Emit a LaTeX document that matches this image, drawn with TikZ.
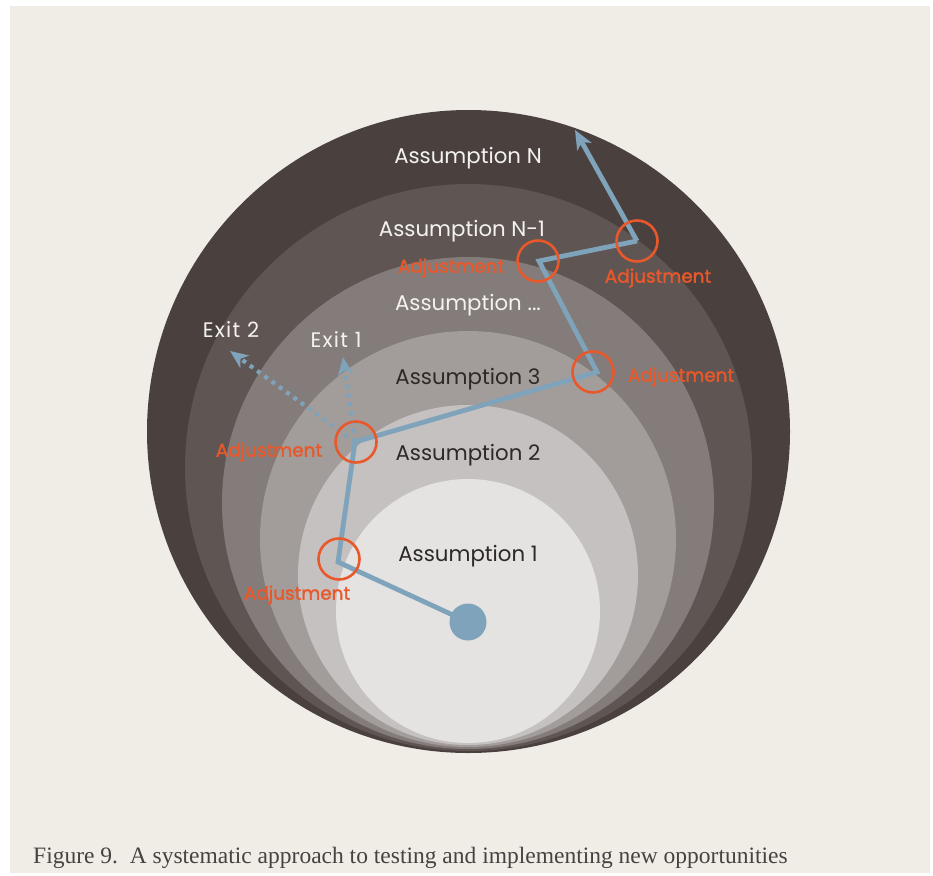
\documentclass[tikz,border=0pt]{standalone}
\usepackage{fontspec}
\setmainfont{Liberation Serif}
\newfontfamily\labelfont{Poppins}
\newfontfamily\exitfont[LetterSpace=6]{Poppins}
\newfontfamily\adjfont[FakeBold=1.6]{Poppins}
\usetikzlibrary{arrows.meta}

\definecolor{paper}{HTML}{F0EDE6}
\definecolor{ringA}{HTML}{4A413F}
\definecolor{ringB}{HTML}{5F5654}
\definecolor{ringC}{HTML}{847C7A}
\definecolor{ringD}{HTML}{A29D9A}
\definecolor{ringE}{HTML}{C5C1C0}
\definecolor{ringF}{HTML}{E4E3E2}
\definecolor{route}{HTML}{7FA3BA}
\definecolor{adjust}{HTML}{E8582A}
\definecolor{lighttext}{HTML}{F4F2EF}
\definecolor{darktext}{HTML}{2E2826}
\definecolor{captiontext}{HTML}{474242}

\tikzset{
  layer/.style={font=\labelfont\fontsize{21.3}{24}\selectfont, inner sep=0pt},
  adjring/.style={circle, draw=adjust, line width=2.6pt, minimum size=41pt, inner sep=0pt},
  adjlabel/.style={text=adjust, font=\adjfont\fontsize{18.4}{20}\selectfont, inner sep=0pt},
  pathline/.style={draw=route, line width=4.8pt, line join=miter},
  exitline/.style={draw=route, line width=4.2pt, dash pattern=on 4pt off 5pt,
    -{Stealth[length=18pt, width=15pt, inset=5pt]}},
  exitlabel/.style={text=lighttext, font=\exitfont\fontsize{21}{23}\selectfont, inner sep=0pt}
}

\begin{document}
\begin{tikzpicture}[x=1pt, y=-1pt]
  \useasboundingbox (0,0) rectangle (933,875);
  \fill[white] (0,0) rectangle (933,875);
  \fill[paper] (10,6) rectangle (930,873);

  % nested assumption layers, all resting near the same base
  \fill[ringA] (468.5,431.5) circle (321.5pt);
  \fill[ringB] (468.5,467.5) circle (283.5pt);
  \fill[ringC] (468,503)     circle (246pt);
  \fill[ringD] (468,539)     circle (208pt);
  \fill[ringE] (468,575)     circle (170pt);
  \fill[ringF] (468,611)     circle (132pt);

  % layer labels
  \node[layer, text=lighttext] (aN)  at (468,158) {Assumption N};
  \node[layer, text=lighttext] (aN1) at (462,231) {Assumption N-1};
  \node[layer, text=lighttext] (aD)  at (468,305) {Assumption ...};
  \node[layer, text=darktext]  (a3)  at (468,379) {Assumption 3};
  \node[layer, text=darktext]  (a2)  at (468,455) {Assumption 2};
  \node[layer, text=darktext]  (a1)  at (468,556) {Assumption 1};

  % turning points of the route
  \coordinate (p1) at (338,562);
  \coordinate (p2) at (355,442);
  \coordinate (p3) at (597,372);
  \coordinate (p4) at (539,261);
  \coordinate (p5) at (637,241);
  \coordinate (goal) at (575,130);
  \coordinate (exitA) at (343,357);
  \coordinate (exitB) at (230,351);

  % exits
  \draw[exitline] (p2) -- (exitA);
  \draw[exitline] (p2) -- (exitB);

  % route through the layers
  \node[circle, fill=route, minimum size=37pt, inner sep=0pt] (start) at (468,622) {};
  \draw[pathline] (start.center) -- (p1) -- (p2) -- (p3) -- (p4) -- (p5);
  \draw[pathline, -{Stealth[length=19pt, width=16pt, inset=5pt]}] (p5) -- (goal);

  % adjustment rings
  \node[adjring] (r1) at (339,559) {};
  \node[adjring] (r2) at (356,442) {};
  \node[adjring] (r3) at (593,372) {};
  \node[adjring] (r4) at (538,261) {};
  \node[adjring] (r5) at (637,241) {};

  \node[adjlabel] (l1) at (297,595) {Adjustment};
  \node[adjlabel] (l2) at (269,452) {Adjustment};
  \node[adjlabel] (l3) at (681,377) {Adjustment};
  \node[adjlabel] (l4) at (451,268) {Adjustment};
  \node[adjlabel] (l5) at (658,278) {Adjustment};

  \node[exitlabel] (e1) at (336,340) {Exit 1};
  \node[exitlabel] (e2) at (231,330) {Exit 2};

  % caption
  \node[anchor=west, text=captiontext, inner sep=0pt,
        font=\fontsize{23.5}{25}\selectfont] (cap) at (33,858)
    {Figure 9.\ \ A systematic approach to testing and implementing new opportunities};
\end{tikzpicture}
\end{document}
